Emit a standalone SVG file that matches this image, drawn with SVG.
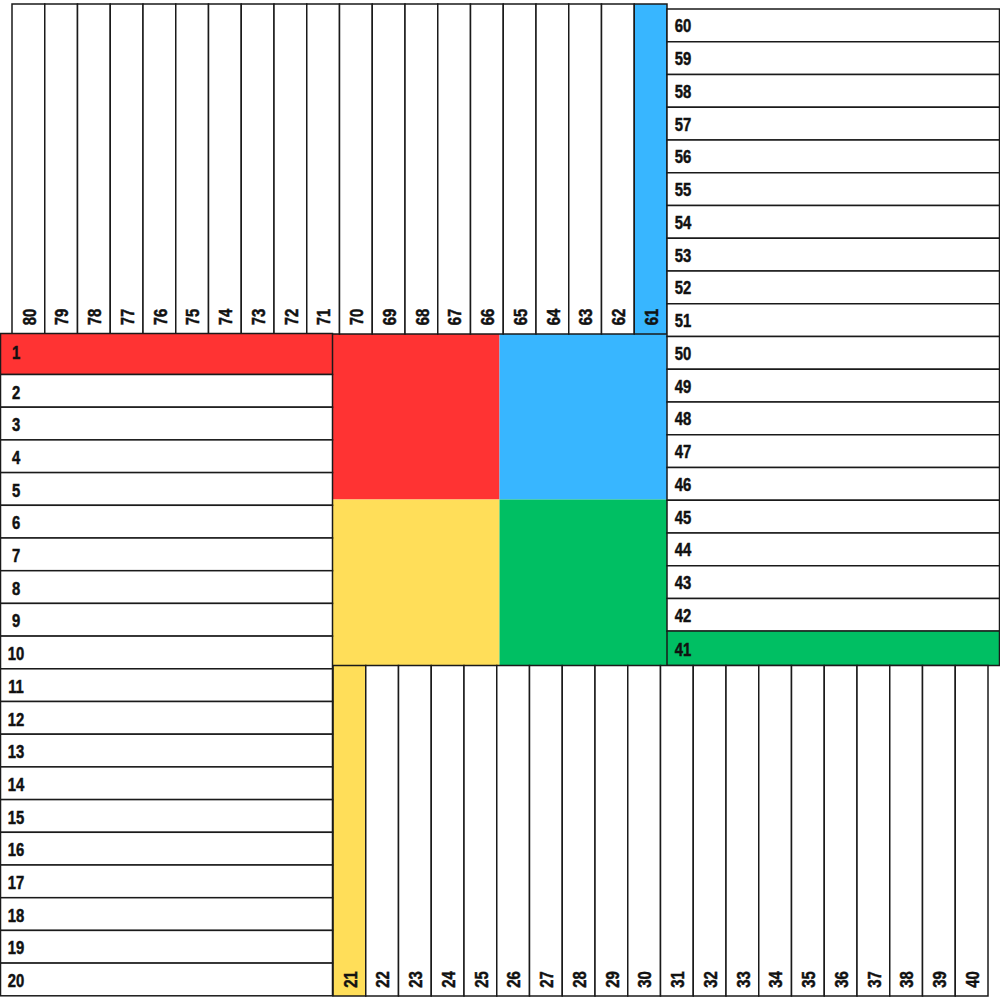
<svg xmlns="http://www.w3.org/2000/svg" width="1000" height="1000" viewBox="0 0 1000 1000">
<style>
.c{fill:#ffffff;stroke:#1a1a1a;stroke-width:1.5}
.r{fill:#ff3333}
.b{fill:#38b6ff}
.y{fill:#ffde59}
.g{fill:#00bf63}
.q{stroke:none}
text{font-family:"Liberation Sans","Arial",sans-serif;font-weight:bold;font-size:19px;fill:#111;stroke:#111;stroke-width:0.5;text-anchor:middle}
</style>
<rect width="1000" height="1000" fill="#ffffff"/>
<g id="center">
<rect id="center-red" class="r q" x="333" y="333.5" width="166.5" height="166"/>
<rect id="center-blue" class="b q" x="499.5" y="333.5" width="167.5" height="166"/>
<rect id="center-yellow" class="y q" x="333" y="499.5" width="166.5" height="166"/>
<rect id="center-green" class="g q" x="499.5" y="499.5" width="167.5" height="166"/>
</g>
<g id="top">
<g id="n80"><rect class="c" x="12" y="4" width="32.75" height="330"/><text transform="translate(35.5,317) rotate(-90) scale(0.78,1)">80</text></g>
<g id="n79"><rect class="c" x="44.75" y="4" width="32.75" height="330"/><text transform="translate(68.25,317) rotate(-90) scale(0.78,1)">79</text></g>
<g id="n78"><rect class="c" x="77.5" y="4" width="32.75" height="330"/><text transform="translate(101,317) rotate(-90) scale(0.78,1)">78</text></g>
<g id="n77"><rect class="c" x="110.25" y="4" width="32.75" height="330"/><text transform="translate(133.75,317) rotate(-90) scale(0.78,1)">77</text></g>
<g id="n76"><rect class="c" x="143" y="4" width="32.75" height="330"/><text transform="translate(166.5,317) rotate(-90) scale(0.78,1)">76</text></g>
<g id="n75"><rect class="c" x="175.75" y="4" width="32.75" height="330"/><text transform="translate(199.25,317) rotate(-90) scale(0.78,1)">75</text></g>
<g id="n74"><rect class="c" x="208.5" y="4" width="32.75" height="330"/><text transform="translate(232,317) rotate(-90) scale(0.78,1)">74</text></g>
<g id="n73"><rect class="c" x="241.25" y="4" width="32.75" height="330"/><text transform="translate(264.75,317) rotate(-90) scale(0.78,1)">73</text></g>
<g id="n72"><rect class="c" x="274" y="4" width="32.75" height="330"/><text transform="translate(297.5,317) rotate(-90) scale(0.78,1)">72</text></g>
<g id="n71"><rect class="c" x="306.75" y="4" width="32.75" height="330"/><text transform="translate(330.25,317) rotate(-90) scale(0.78,1)">71</text></g>
<g id="n70"><rect class="c" x="339.5" y="4" width="32.75" height="330"/><text transform="translate(363,317) rotate(-90) scale(0.78,1)">70</text></g>
<g id="n69"><rect class="c" x="372.25" y="4" width="32.75" height="330"/><text transform="translate(395.75,317) rotate(-90) scale(0.78,1)">69</text></g>
<g id="n68"><rect class="c" x="405" y="4" width="32.75" height="330"/><text transform="translate(428.5,317) rotate(-90) scale(0.78,1)">68</text></g>
<g id="n67"><rect class="c" x="437.75" y="4" width="32.75" height="330"/><text transform="translate(461.25,317) rotate(-90) scale(0.78,1)">67</text></g>
<g id="n66"><rect class="c" x="470.5" y="4" width="32.75" height="330"/><text transform="translate(494,317) rotate(-90) scale(0.78,1)">66</text></g>
<g id="n65"><rect class="c" x="503.25" y="4" width="32.75" height="330"/><text transform="translate(526.75,317) rotate(-90) scale(0.78,1)">65</text></g>
<g id="n64"><rect class="c" x="536" y="4" width="32.75" height="330"/><text transform="translate(559.5,317) rotate(-90) scale(0.78,1)">64</text></g>
<g id="n63"><rect class="c" x="568.75" y="4" width="32.75" height="330"/><text transform="translate(592.25,317) rotate(-90) scale(0.78,1)">63</text></g>
<g id="n62"><rect class="c" x="601.5" y="4" width="32.75" height="330"/><text transform="translate(625,317) rotate(-90) scale(0.78,1)">62</text></g>
<g id="n61"><rect class="c b" x="634.25" y="4" width="32.75" height="330"/><text transform="translate(657.75,317) rotate(-90) scale(0.78,1)">61</text></g>
</g>
<g id="right">
<g id="n60"><rect class="c" x="667" y="9" width="332.5" height="32.75"/><text transform="translate(683,32.4) scale(0.78,1)">60</text></g>
<g id="n59"><rect class="c" x="667" y="41.75" width="332.5" height="32.75"/><text transform="translate(683,65.1) scale(0.78,1)">59</text></g>
<g id="n58"><rect class="c" x="667" y="74.5" width="332.5" height="32.75"/><text transform="translate(683,97.9) scale(0.78,1)">58</text></g>
<g id="n57"><rect class="c" x="667" y="107.25" width="332.5" height="32.75"/><text transform="translate(683,130.6) scale(0.78,1)">57</text></g>
<g id="n56"><rect class="c" x="667" y="140" width="332.5" height="32.75"/><text transform="translate(683,163.4) scale(0.78,1)">56</text></g>
<g id="n55"><rect class="c" x="667" y="172.75" width="332.5" height="32.75"/><text transform="translate(683,196.1) scale(0.78,1)">55</text></g>
<g id="n54"><rect class="c" x="667" y="205.5" width="332.5" height="32.75"/><text transform="translate(683,228.9) scale(0.78,1)">54</text></g>
<g id="n53"><rect class="c" x="667" y="238.25" width="332.5" height="32.75"/><text transform="translate(683,261.6) scale(0.78,1)">53</text></g>
<g id="n52"><rect class="c" x="667" y="271" width="332.5" height="32.75"/><text transform="translate(683,294.4) scale(0.78,1)">52</text></g>
<g id="n51"><rect class="c" x="667" y="303.75" width="332.5" height="32.75"/><text transform="translate(683,327.1) scale(0.78,1)">51</text></g>
<g id="n50"><rect class="c" x="667" y="336.5" width="332.5" height="32.75"/><text transform="translate(683,359.9) scale(0.78,1)">50</text></g>
<g id="n49"><rect class="c" x="667" y="369.25" width="332.5" height="32.75"/><text transform="translate(683,392.6) scale(0.78,1)">49</text></g>
<g id="n48"><rect class="c" x="667" y="402" width="332.5" height="32.75"/><text transform="translate(683,425.4) scale(0.78,1)">48</text></g>
<g id="n47"><rect class="c" x="667" y="434.75" width="332.5" height="32.75"/><text transform="translate(683,458.1) scale(0.78,1)">47</text></g>
<g id="n46"><rect class="c" x="667" y="467.5" width="332.5" height="32.75"/><text transform="translate(683,490.9) scale(0.78,1)">46</text></g>
<g id="n45"><rect class="c" x="667" y="500.25" width="332.5" height="32.75"/><text transform="translate(683,523.6) scale(0.78,1)">45</text></g>
<g id="n44"><rect class="c" x="667" y="533" width="332.5" height="32.75"/><text transform="translate(683,556.4) scale(0.78,1)">44</text></g>
<g id="n43"><rect class="c" x="667" y="565.75" width="332.5" height="32.75"/><text transform="translate(683,589.1) scale(0.78,1)">43</text></g>
<g id="n42"><rect class="c" x="667" y="598.5" width="332.5" height="32.75"/><text transform="translate(683,621.9) scale(0.78,1)">42</text></g>
<g id="n41"><rect class="c g" x="667" y="631" width="332.5" height="34.5"/><text transform="translate(683,655.5) scale(0.78,1)">41</text></g>
</g>
<g id="bottom">
<g id="n21"><rect class="c y" x="333" y="665.5" width="32.75" height="330.5"/><text transform="translate(356.5,979.5) rotate(-90) scale(0.78,1)">21</text></g>
<g id="n22"><rect class="c" x="365.75" y="665.5" width="32.75" height="330.5"/><text transform="translate(389.25,979.5) rotate(-90) scale(0.78,1)">22</text></g>
<g id="n23"><rect class="c" x="398.5" y="665.5" width="32.75" height="330.5"/><text transform="translate(422,979.5) rotate(-90) scale(0.78,1)">23</text></g>
<g id="n24"><rect class="c" x="431.25" y="665.5" width="32.75" height="330.5"/><text transform="translate(454.75,979.5) rotate(-90) scale(0.78,1)">24</text></g>
<g id="n25"><rect class="c" x="464" y="665.5" width="32.75" height="330.5"/><text transform="translate(487.5,979.5) rotate(-90) scale(0.78,1)">25</text></g>
<g id="n26"><rect class="c" x="496.75" y="665.5" width="32.75" height="330.5"/><text transform="translate(520.25,979.5) rotate(-90) scale(0.78,1)">26</text></g>
<g id="n27"><rect class="c" x="529.5" y="665.5" width="32.75" height="330.5"/><text transform="translate(553,979.5) rotate(-90) scale(0.78,1)">27</text></g>
<g id="n28"><rect class="c" x="562.25" y="665.5" width="32.75" height="330.5"/><text transform="translate(585.75,979.5) rotate(-90) scale(0.78,1)">28</text></g>
<g id="n29"><rect class="c" x="595" y="665.5" width="32.75" height="330.5"/><text transform="translate(618.5,979.5) rotate(-90) scale(0.78,1)">29</text></g>
<g id="n30"><rect class="c" x="627.75" y="665.5" width="32.75" height="330.5"/><text transform="translate(651.25,979.5) rotate(-90) scale(0.78,1)">30</text></g>
<g id="n31"><rect class="c" x="660.5" y="665.5" width="32.75" height="330.5"/><text transform="translate(684,979.5) rotate(-90) scale(0.78,1)">31</text></g>
<g id="n32"><rect class="c" x="693.25" y="665.5" width="32.75" height="330.5"/><text transform="translate(716.75,979.5) rotate(-90) scale(0.78,1)">32</text></g>
<g id="n33"><rect class="c" x="726" y="665.5" width="32.75" height="330.5"/><text transform="translate(749.5,979.5) rotate(-90) scale(0.78,1)">33</text></g>
<g id="n34"><rect class="c" x="758.75" y="665.5" width="32.75" height="330.5"/><text transform="translate(782.25,979.5) rotate(-90) scale(0.78,1)">34</text></g>
<g id="n35"><rect class="c" x="791.5" y="665.5" width="32.75" height="330.5"/><text transform="translate(815,979.5) rotate(-90) scale(0.78,1)">35</text></g>
<g id="n36"><rect class="c" x="824.25" y="665.5" width="32.75" height="330.5"/><text transform="translate(847.75,979.5) rotate(-90) scale(0.78,1)">36</text></g>
<g id="n37"><rect class="c" x="857" y="665.5" width="32.75" height="330.5"/><text transform="translate(880.5,979.5) rotate(-90) scale(0.78,1)">37</text></g>
<g id="n38"><rect class="c" x="889.75" y="665.5" width="32.75" height="330.5"/><text transform="translate(913.25,979.5) rotate(-90) scale(0.78,1)">38</text></g>
<g id="n39"><rect class="c" x="922.5" y="665.5" width="32.75" height="330.5"/><text transform="translate(946,979.5) rotate(-90) scale(0.78,1)">39</text></g>
<g id="n40"><rect class="c" x="955.25" y="665.5" width="32.75" height="330.5"/><text transform="translate(978.75,979.5) rotate(-90) scale(0.78,1)">40</text></g>
</g>
<g id="left">
<g id="n1"><rect class="c r" x="0.5" y="333.5" width="332" height="41"/><text transform="translate(16,359) scale(0.78,1)">1</text></g>
<g id="n2"><rect class="c" x="0.5" y="374.5" width="332" height="32.7"/><text transform="translate(16,398.5) scale(0.78,1)">2</text></g>
<g id="n3"><rect class="c" x="0.5" y="407.2" width="332" height="32.7"/><text transform="translate(16,431.2) scale(0.78,1)">3</text></g>
<g id="n4"><rect class="c" x="0.5" y="439.9" width="332" height="32.7"/><text transform="translate(16,463.9) scale(0.78,1)">4</text></g>
<g id="n5"><rect class="c" x="0.5" y="472.6" width="332" height="32.7"/><text transform="translate(16,496.6) scale(0.78,1)">5</text></g>
<g id="n6"><rect class="c" x="0.5" y="505.3" width="332" height="32.7"/><text transform="translate(16,529.3) scale(0.78,1)">6</text></g>
<g id="n7"><rect class="c" x="0.5" y="538" width="332" height="32.7"/><text transform="translate(16,562) scale(0.78,1)">7</text></g>
<g id="n8"><rect class="c" x="0.5" y="570.7" width="332" height="32.7"/><text transform="translate(16,594.7) scale(0.78,1)">8</text></g>
<g id="n9"><rect class="c" x="0.5" y="603.4" width="332" height="32.7"/><text transform="translate(16,627.4) scale(0.78,1)">9</text></g>
<g id="n10"><rect class="c" x="0.5" y="636.1" width="332" height="32.7"/><text transform="translate(16,660.1) scale(0.78,1)">10</text></g>
<g id="n11"><rect class="c" x="0.5" y="668.8" width="332" height="32.7"/><text transform="translate(16,692.8) scale(0.78,1)">11</text></g>
<g id="n12"><rect class="c" x="0.5" y="701.5" width="332" height="32.7"/><text transform="translate(16,725.5) scale(0.78,1)">12</text></g>
<g id="n13"><rect class="c" x="0.5" y="734.2" width="332" height="32.7"/><text transform="translate(16,758.2) scale(0.78,1)">13</text></g>
<g id="n14"><rect class="c" x="0.5" y="766.9" width="332" height="32.7"/><text transform="translate(16,790.9) scale(0.78,1)">14</text></g>
<g id="n15"><rect class="c" x="0.5" y="799.6" width="332" height="32.7"/><text transform="translate(16,823.6) scale(0.78,1)">15</text></g>
<g id="n16"><rect class="c" x="0.5" y="832.3" width="332" height="32.7"/><text transform="translate(16,856.3) scale(0.78,1)">16</text></g>
<g id="n17"><rect class="c" x="0.5" y="865" width="332" height="32.7"/><text transform="translate(16,889) scale(0.78,1)">17</text></g>
<g id="n18"><rect class="c" x="0.5" y="897.7" width="332" height="32.7"/><text transform="translate(16,921.7) scale(0.78,1)">18</text></g>
<g id="n19"><rect class="c" x="0.5" y="930.4" width="332" height="32.7"/><text transform="translate(16,954.4) scale(0.78,1)">19</text></g>
<g id="n20"><rect class="c" x="0.5" y="963.1" width="332" height="32.7"/><text transform="translate(16,987.1) scale(0.78,1)">20</text></g>
</g>
<g id="connectors"/>
</svg>
